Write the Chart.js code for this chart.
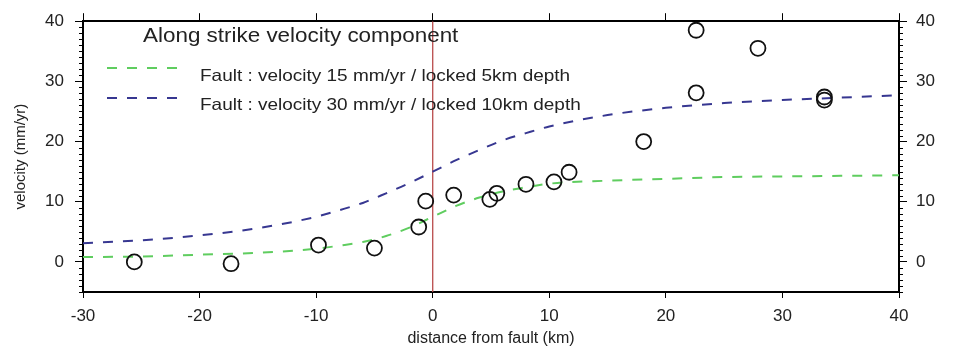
<!DOCTYPE html>
<html>
<head>
  <title>Along strike velocity component</title>
  <script src="https://cdn.jsdelivr.net/npm/chart.js"></script>
  <style>
    body {
      margin: 0;
      background: #fff;
    }
    #wrap {
      width: 958px;
      height: 352px;
    }
  </style>
</head>
<body>
  <div id="wrap"><canvas id="chart"></canvas></div>

  <script>
    // observed GPS velocities (distance km, velocity mm/yr)
    var obsX = [-25.6, -17.3, -9.8, -5.0, -1.2, -0.6, 1.8, 4.9, 5.5, 8.0, 10.4, 11.7, 18.1, 22.6, 22.6, 27.9, 33.6, 33.6];
    var obsV = [0.0, -0.3, 2.8, 2.3, 5.8, 10.1, 11.1, 10.4, 11.4, 12.9, 13.3, 14.9, 20.0, 28.1, 38.5, 35.5, 27.4, 26.9];

    // model curves
    var modelX = [-30, -25, -20, -15, -10, -8, -6, -4, -2, 0, 2, 4, 6, 8, 10, 15, 20, 25, 30, 35, 40];
    var model15 = [0.8, 0.9, 1.2, 1.5, 2.2, 2.7, 3.3, 4.3, 5.7, 7.5, 9.3, 10.7, 11.7, 12.4, 13.0, 13.5, 13.8, 14.1, 14.2, 14.3, 14.4];
    var model30 = [3.1, 3.6, 4.4, 5.6, 7.5, 8.6, 9.8, 11.4, 13.1, 15.0, 16.9, 18.6, 20.2, 21.4, 22.5, 24.4, 25.6, 26.4, 26.9, 27.3, 27.7];

    // fault trace
    var faultX = [0, 0];
    var faultY = [-5, 40];

    var xTicks = [-30, -20, -10, 0, 10, 20, 30, 40];
    var yTicks = [0, 10, 20, 30, 40];

    var chartTitle = "Along strike velocity component";
    var label15 = "Fault : velocity 15 mm/yr / locked 5km depth";
    var label30 = "Fault : velocity 30 mm/yr / locked 10km depth";

    var green = "rgb(95,205,95)";
    var blue = "rgb(55,55,145)";

    function pts(xs, ys) {
      var out = [];
      for (var i = 0; i < xs.length; i++) out.push({ x: xs[i], y: ys[i] });
      return out;
    }

    Chart.defaults.font.family = '"Liberation Sans", Arial, sans-serif';
    Chart.defaults.color = "#222";

    var setTicks = function (vals) {
      return function (scale) {
        scale.ticks = vals.map(function (v) { return { value: v }; });
      };
    };

    // minor ticks on the y axes + legend box text
    var extras = {
      id: "extras",
      afterDraw: function (chart) {
        var ctx = chart.ctx;
        var a = chart.chartArea;
        var ys = chart.scales.y;
        ctx.save();
        ctx.strokeStyle = "#000";
        ctx.lineWidth = 1;
        for (var v = -5; v <= 40; v++) {
          if (v % 10 === 0) continue;
          var py = Math.round(ys.getPixelForValue(v)) + 0.5;
          ctx.beginPath();
          ctx.moveTo(a.left - 4, py);
          ctx.lineTo(a.left, py);
          ctx.moveTo(a.right, py);
          ctx.lineTo(a.right + 4, py);
          ctx.stroke();
        }

        var stretch = 1.15;
        function text(str, x, y, size) {
          ctx.save();
          ctx.translate(x, y);
          ctx.scale(stretch, 1);
          ctx.font = size + 'px "Liberation Sans", Arial, sans-serif';
          ctx.fillStyle = "#222";
          ctx.textBaseline = "middle";
          ctx.fillText(str, 0, 0);
          ctx.restore();
        }
        text(chartTitle, 143, 37, 19.5);

        ctx.lineWidth = 2;
        ctx.setLineDash([10, 10]);
        ctx.strokeStyle = green;
        ctx.beginPath();
        ctx.moveTo(107, 68);
        ctx.lineTo(180, 68);
        ctx.stroke();
        ctx.strokeStyle = blue;
        ctx.beginPath();
        ctx.moveTo(107, 98);
        ctx.lineTo(180, 98);
        ctx.stroke();
        ctx.setLineDash([]);
        text(label15, 200, 76, 16.5);
        text(label30, 200, 105, 16.5);
        ctx.restore();
      }
    };

    var border = { display: true, color: "#000", width: 2 };

    var ctx = document.getElementById("chart").getContext("2d");
    var chart = new Chart(ctx, {
      type: "scatter",
      data: {
        datasets: [
          {
            label: "observed",
            data: pts(obsX, obsV),
            pointStyle: "circle",
            pointRadius: 7.5,
            pointBorderWidth: 1.8,
            pointBorderColor: "#111",
            pointBackgroundColor: "rgba(0,0,0,0)",
            showLine: false,
            order: 0
          },
          {
            label: label15,
            data: pts(modelX, model15),
            showLine: true,
            pointRadius: 0,
            borderColor: green,
            borderWidth: 2,
            borderDash: [10, 10],
            cubicInterpolationMode: "monotone",
            order: 1
          },
          {
            label: label30,
            data: pts(modelX, model30),
            showLine: true,
            pointRadius: 0,
            borderColor: blue,
            borderWidth: 2,
            borderDash: [10, 10],
            cubicInterpolationMode: "monotone",
            order: 1
          },
          {
            label: "fault",
            data: pts(faultX, faultY),
            showLine: true,
            pointRadius: 0,
            borderColor: "rgb(185,75,75)",
            borderWidth: 1.3,
            order: 2
          }
        ]
      },
      options: {
        responsive: true,
        maintainAspectRatio: false,
        animation: false,
        layout: { padding: 0 },
        plugins: {
          legend: { display: false },
          tooltip: { enabled: false }
        },
        scales: {
          x: {
            type: "linear",
            position: "bottom",
            min: -30,
            max: 40,
            afterBuildTicks: setTicks(xTicks),
            afterFit: function (s) { s.height = 60; },
            ticks: { font: { size: 17 }, padding: 8, maxRotation: 0 },
            grid: { drawOnChartArea: false, tickLength: 6, color: "#000" },
            border: border,
            title: {
              display: true,
              text: "distance from fault (km)",
              font: { size: 16 },
              padding: { top: 0, bottom: 4 }
            }
          },
          x2: {
            type: "linear",
            position: "top",
            min: -30,
            max: 40,
            afterBuildTicks: setTicks(xTicks),
            afterFit: function (s) { s.height = 20; },
            ticks: { display: false },
            grid: { drawOnChartArea: false, tickLength: 8, color: "#000" },
            border: border
          },
          y: {
            type: "linear",
            position: "left",
            min: -5,
            max: 40,
            afterBuildTicks: setTicks(yTicks),
            afterFit: function (s) { s.width = 83; },
            ticks: { font: { size: 17 }, padding: 11 },
            grid: { drawOnChartArea: false, tickLength: 8, color: "#000" },
            border: border,
            title: {
              display: true,
              text: "velocity (mm/yr)",
              font: { size: 15 },
              padding: { top: 12, bottom: 0 }
            }
          },
          y2: {
            type: "linear",
            position: "right",
            min: -5,
            max: 40,
            afterBuildTicks: setTicks(yTicks),
            afterFit: function (s) { s.width = 59; },
            ticks: { font: { size: 17 }, padding: 9 },
            grid: { drawOnChartArea: false, tickLength: 8, color: "#000" },
            border: border
          }
        }
      },
      plugins: [extras]
    });
  </script>
</body>
</html>
